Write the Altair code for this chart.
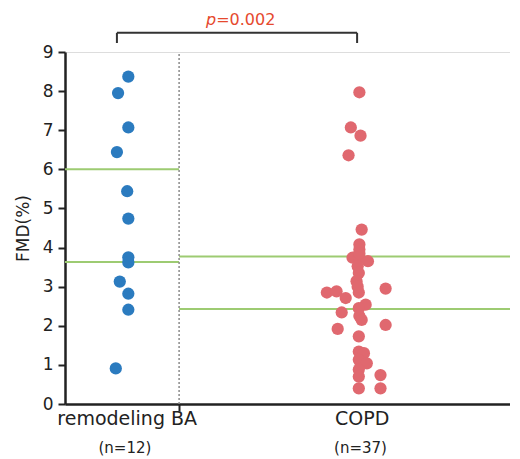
import altair as alt
import pandas as pd

FONT = "DejaVu Sans"

groups = ["remodeling BA", "COPD"]
group_n = ["(n=12)", "(n=37)"]
group_center = [1.0, 5.2]
separator = 2.0
x_max = 7.8

ba_values = [8.37, 7.95, 7.07, 6.44, 5.44, 4.74, 3.75, 3.62, 3.13, 2.82, 2.41, 0.91]
ba_jitter = [0.11, -0.07, 0.11, -0.09, 0.09, 0.11, 0.11, 0.11, -0.04, 0.11, 0.11, -0.11]

copd_values = [7.97, 7.07, 6.86, 6.36, 4.46, 4.08, 3.95, 3.74, 3.74, 3.65, 3.52, 3.35,
               3.14, 2.85, 2.88, 2.71, 2.85, 2.95, 2.54, 2.45, 2.34, 2.25, 1.92, 2.02,
               1.73, 1.34, 1.30, 1.13, 1.04, 0.88, 0.70, 0.74, 0.40, 0.40, 3.85, 3.00, 2.15]
copd_jitter = [-0.04, -0.19, -0.02, -0.23, 0.0, -0.04, -0.04, -0.16, -0.04, 0.11, -0.07, -0.05,
               -0.09, -0.61, -0.44, -0.28, -0.05, 0.42, 0.07, -0.05, -0.35, -0.04, -0.42, 0.42,
               -0.05, -0.05, 0.04, -0.05, 0.09, -0.05, -0.05, 0.33, -0.05, 0.33, -0.04, -0.07, 0.0]

y_ticks = [0, 1, 2, 3, 4, 5, 6, 7, 8, 9]

# green reference lines per group
ba_lines = [6.0, 3.63]
copd_lines = [3.77, 2.43]

colors = {"remodeling BA": "#2b7bbf", "COPD": "#e0686f"}

pts = pd.DataFrame(
    [{"group": "remodeling BA", "x": group_center[0] + j, "v": v} for v, j in zip(ba_values, ba_jitter)]
    + [{"group": "COPD", "x": group_center[1] + j, "v": v} for v, j in zip(copd_values, copd_jitter)]
)

lines = pd.DataFrame(
    [{"x": 0.0, "x2": separator, "y": v} for v in ba_lines]
    + [{"x": separator, "x2": x_max, "y": v} for v in copd_lines]
)

xs = alt.Scale(domain=[0, x_max], nice=False, zero=False)
ys = alt.Scale(domain=[0, 9], nice=False)

W, H = 445, 352

x_axis = alt.Axis(values=[separator], labels=False, title=None, tickSize=7, tickWidth=2,
                  tickColor="#222", domainColor="#222", domainWidth=2.5, grid=False)
y_axis = alt.Axis(values=y_ticks, labelOverlap=False, tickSize=7, tickWidth=2, tickColor="#222",
                  domainColor="#222", domainWidth=2.5, grid=False, labelFont=FONT,
                  labelFontSize=17, labelColor="#222", labelPadding=5, title="FMD(%)",
                  titleFont=FONT, titleFontSize=17, titleFontWeight="normal",
                  titleColor="#222", titlePadding=10)


def X(f):
    return alt.X(f, scale=xs, axis=x_axis)


def Y(f):
    return alt.Y(f, scale=ys, axis=y_axis)


green = alt.Chart(lines).mark_rule(color="#9dcb72", strokeWidth=2).encode(
    x=X("x:Q"), x2="x2:Q", y=Y("y:Q"))

sep = alt.Chart(pd.DataFrame({"x": [separator], "y": [0], "y2": [9]})).mark_rule(
    color="#8a8a8a", strokeWidth=1.5, strokeDash=[2, 2]
).encode(x=X("x:Q"), y=Y("y:Q"), y2="y2:Q")

points = alt.Chart(pts).mark_circle(size=150, opacity=1).encode(
    x=X("x:Q"),
    y=Y("v:Q"),
    color=alt.Color("group:N", scale=alt.Scale(domain=list(colors), range=list(colors.values())), legend=None),
)

# bracket
bx = [0.91, 5.12]
by_top, by_bot = 9.49, 9.23
br_h = alt.Chart(pd.DataFrame({"x": [bx[0]], "x2": [bx[1]], "y": [by_top]})).mark_rule(
    color="#333", strokeWidth=2).encode(x=X("x:Q"), x2="x2:Q", y=Y("y:Q"))
br_v = alt.Chart(pd.DataFrame({"x": bx, "y": [by_top, by_top], "y2": [by_bot, by_bot]})).mark_rule(
    color="#333", strokeWidth=2).encode(x=X("x:Q"), y=Y("y:Q"), y2="y2:Q")

p_x = 2.65
p_y = 9.70
p_it = alt.Chart(pd.DataFrame({"x": [p_x], "y": [p_y], "t": ["p"]})).mark_text(
    font=FONT, fontSize=16, fontStyle="italic", color="#e6492e", align="right", baseline="alphabetic"
).encode(x=X("x:Q"), y=Y("y:Q"), text="t:N")
p_rest = alt.Chart(pd.DataFrame({"x": [p_x], "y": [p_y], "t": ["=0.002"]})).mark_text(
    font=FONT, fontSize=16, color="#e6492e", align="left", baseline="alphabetic"
).encode(x=X("x:Q"), y=Y("y:Q"), text="t:N")

lab_df = pd.DataFrame({"x": [1.09, 5.21], "y": [-0.53, -0.53], "t": groups})
n_df = pd.DataFrame({"x": [1.05, 5.18], "y": [-1.25, -1.25], "t": group_n})
labs = alt.Chart(lab_df).mark_text(font=FONT, fontSize=19, color="#222", align="center",
                                   baseline="alphabetic").encode(
    x=X("x:Q"), y=Y("y:Q"), text="t:N")
nlabs = alt.Chart(n_df).mark_text(font=FONT, fontSize=15, color="#222", align="center",
                                  baseline="alphabetic").encode(
    x=X("x:Q"), y=Y("y:Q"), text="t:N")

chart = alt.layer(green, sep, points, br_h, br_v, p_it, p_rest, labs, nlabs).properties(
    width=W, height=H,
    autosize=alt.AutoSizeParams(type="none"),
    padding={"left": 57, "top": 44, "right": 0, "bottom": 55},
).configure_view(stroke=None).configure(background="white")

chart.save("out.html", embed_options={"renderer": "svg", "actions": False})
